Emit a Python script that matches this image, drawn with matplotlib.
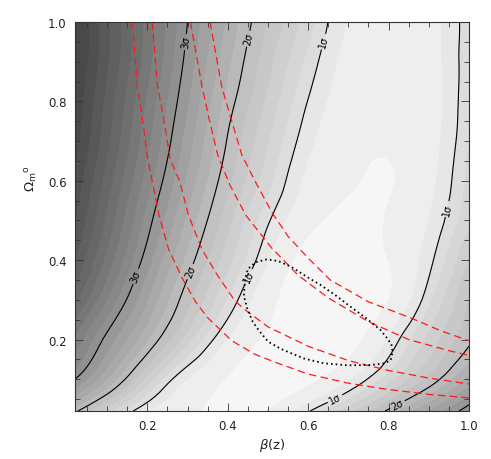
import numpy as np
import matplotlib
matplotlib.use("Agg")
import matplotlib.pyplot as plt
import matplotlib.tri as mtri
from matplotlib.ticker import MultipleLocator, FormatStrFormatter

# ---- data ----
beta_grid = [0.02, 0.1, 0.2, 0.3, 0.4, 0.5, 0.6, 0.7, 0.8, 0.9, 1.0]
omega_grid = [0.02, 0.1, 0.2, 0.3, 0.4, 0.5, 0.6, 0.7, 0.8, 0.9, 1.0]
# confidence level (in sigma) on the grid; rows follow omega_grid
nsigma = [
    [2.05, 1.45, 0.80, 0.50, 0.35, 0.45, 0.97, 1.50, 2.05, 2.60, 3.15],
    [3.00, 2.38, 1.50, 0.78, 0.42, 0.25, 0.35, 0.75, 1.30, 1.85, 2.45],
    [3.53, 2.92, 2.21, 1.46, 0.78, 0.38, 0.20, 0.30, 0.82, 1.45, 1.95],
    [4.04, 3.38, 2.59, 1.86, 1.17, 0.55, 0.25, 0.22, 0.45, 1.13, 1.80],
    [4.38, 3.71, 2.88, 2.12, 1.46, 0.80, 0.30, 0.25, 0.45, 0.93, 1.60],
    [4.60, 3.93, 3.10, 2.34, 1.66, 1.03, 0.55, 0.38, 0.47, 0.80, 1.35],
    [4.73, 4.09, 3.29, 2.54, 1.85, 1.26, 0.72, 0.48, 0.43, 0.70, 1.26],
    [4.87, 4.24, 3.44, 2.69, 1.98, 1.40, 0.86, 0.56, 0.48, 0.67, 1.19],
    [4.94, 4.32, 3.55, 2.81, 2.11, 1.54, 0.99, 0.64, 0.52, 0.66, 1.16],
    [5.03, 4.42, 3.67, 2.92, 2.24, 1.66, 1.13, 0.70, 0.57, 0.68, 1.14],
    [5.05, 4.43, 3.71, 3.00, 2.35, 1.78, 1.27, 0.77, 0.62, 0.70, 1.12],
]
sigma_levels = [1, 2, 3]
sigma_labels = {1: "1\u03c3", 2: "2\u03c3", 3: "3\u03c3"}

# red dashed constraint curves (beta, omega)
red1_beta = [0.163, 0.175, 0.188, 0.2, 0.229, 0.253, 0.286, 0.32, 0.35, 0.41, 0.467, 0.52, 0.6, 0.7, 0.8, 0.9, 1.0]
red1_omega = [1.0, 0.84, 0.754, 0.66, 0.513, 0.427, 0.356, 0.295, 0.255, 0.197, 0.163, 0.142, 0.113, 0.09, 0.074, 0.062, 0.053]
red2_beta = [0.212, 0.225, 0.241, 0.257, 0.28, 0.303, 0.336, 0.373, 0.418, 0.447, 0.5, 0.6, 0.7, 0.8, 0.9, 1.0]
red2_omega = [1.0, 0.84, 0.754, 0.653, 0.6, 0.511, 0.427, 0.364, 0.297, 0.272, 0.232, 0.183, 0.147, 0.122, 0.103, 0.088]
red3_beta = [0.307, 0.336, 0.355, 0.375, 0.405, 0.445, 0.509, 0.575, 0.65, 0.75, 0.85, 0.95, 1.0]
red3_omega = [1.0, 0.837, 0.75, 0.665, 0.59, 0.513, 0.431, 0.362, 0.305, 0.245, 0.2, 0.172, 0.16]
red4_beta = [0.356, 0.385, 0.41, 0.435, 0.47, 0.51, 0.55, 0.6, 0.655, 0.75, 0.854, 0.93, 1.0]
red4_omega = [1.0, 0.837, 0.75, 0.665, 0.595, 0.52, 0.46, 0.405, 0.35, 0.295, 0.255, 0.222, 0.197]

# dotted closed contour
dot_beta = [0.497, 0.47, 0.45, 0.443, 0.44, 0.449, 0.462, 0.478, 0.50, 0.533, 0.59, 0.64, 0.70,
            0.756, 0.79, 0.805, 0.81, 0.807, 0.795, 0.78, 0.745, 0.705, 0.67, 0.63, 0.6, 0.558, 0.525, 0.497]
dot_omega = [0.402, 0.395, 0.378, 0.352, 0.31, 0.276, 0.245, 0.222, 0.195, 0.176, 0.152, 0.14, 0.135,
             0.136, 0.14, 0.148, 0.168, 0.188, 0.205, 0.224, 0.253, 0.283, 0.31, 0.338, 0.356, 0.383, 0.398, 0.402]

# ---- figure ----
fig = plt.figure(figsize=(4.91, 4.60), dpi=100)
ax = fig.add_axes([75 / 491, 48 / 460, 394 / 491, 389 / 460])

B, O = np.meshgrid(beta_grid, omega_grid)
S = np.array(nsigma)

# smooth rendering of the grid with matplotlib's cubic triangulation refiner
tri = mtri.Triangulation(B.ravel(), O.ravel())
interp = mtri.CubicTriInterpolator(tri, S.ravel(), kind="min_E")
refiner = mtri.UniformTriRefiner(tri)
tri_f, S_f = refiner.refine_field(S.ravel(), triinterpolator=interp, subdiv=3)

fill_levels = [0.0, 0.45, 0.8] + [round(v, 2) for v in np.arange(1.0, 5.81, 0.2)]
mids = [(a + b) / 2 for a, b in zip(fill_levels[:-1], fill_levels[1:])]
g = np.interp(mids, [0.2, 0.6, 0.9, 1.1, 2.0, 3.0, 4.0, 5.0],
              [0.965, 0.935, 0.905, 0.865, 0.745, 0.58, 0.42, 0.27])
band_colors = [(v, v, v) for v in g]
cf = ax.tricontourf(tri_f, S_f, levels=fill_levels, colors=band_colors, extend="both")
cf.set_edgecolor("face")
cf.set_linewidth(0.4)

cs = ax.tricontour(tri_f, S_f, levels=sigma_levels, colors="k", linewidths=0.8)
label_pos = [(0.29, 0.95), (0.17, 0.36), (0.44, 0.96), (0.31, 0.37), (0.64, 0.95),
             (0.45, 0.36), (0.94, 0.53), (0.67, 0.045), (0.82, 0.04)]
ax.clabel(cs, fmt=sigma_labels, fontsize=7, inline=True, inline_spacing=2, manual=label_pos)

for xb, yo in [(red1_beta, red1_omega), (red2_beta, red2_omega),
               (red3_beta, red3_omega), (red4_beta, red4_omega)]:
    ax.plot(xb, yo, color="#ff1a1a", lw=0.9, ls=(0, (6, 3.5)))

ax.plot(dot_beta, dot_omega, color="k", lw=1.3, ls=(0, (0.9, 1.7)))

ax.set_xlim(0.02, 1.0)
ax.set_ylim(0.02, 1.0)
ax.xaxis.set_major_locator(MultipleLocator(0.2))
ax.yaxis.set_major_locator(MultipleLocator(0.2))
ax.xaxis.set_minor_locator(MultipleLocator(0.05))
ax.yaxis.set_minor_locator(MultipleLocator(0.05))
ax.xaxis.set_major_formatter(FormatStrFormatter("%.1f"))
ax.yaxis.set_major_formatter(FormatStrFormatter("%.1f"))
ax.tick_params(which="both", direction="in", top=True, right=True, width=0.6, colors="#333333",
               labelsize=8.5, labelcolor="#222222")
ax.tick_params(which="major", length=6, pad=6)
ax.tick_params(which="minor", length=3.5)
for sp in ax.spines.values():
    sp.set_linewidth(0.8)
    sp.set_color("#333333")
    sp.set_zorder(5)

ax.set_xlabel(r"$\beta$(z)", fontsize=9.5, color="#222222")
ax.set_ylabel(r"$\Omega_{\rm m}{}^{\rm o}$", fontsize=9.5, color="#222222")
ax.yaxis.set_label_coords(-0.088, 0.6)
ax.xaxis.set_label_coords(0.5, -0.065)

fig.savefig("out.png", dpi=100)
